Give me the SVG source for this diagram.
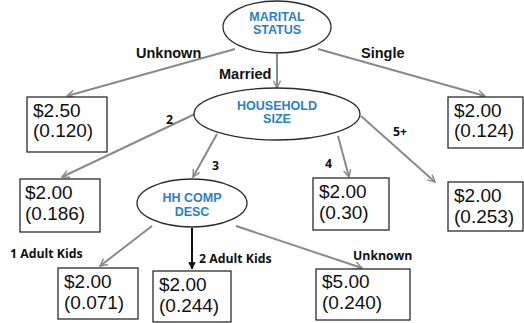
<svg xmlns="http://www.w3.org/2000/svg" width="524" height="323" viewBox="0 0 524 323">
<style>
.node ellipse{fill:#fff;stroke:#2b2b2b;stroke-width:1.3}
.node text{font-family:"Liberation Sans",Arial,sans-serif;font-weight:bold;font-size:12.5px;fill:#2c80c3;text-anchor:middle}
.leaf rect{fill:#fff;stroke:#2b2b2b;stroke-width:1.3}
.leaf text{font-family:"Liberation Sans",Arial,sans-serif;font-size:19px;fill:#111}
.edge{stroke:#8a8a8a;stroke-width:2;fill:none;marker-end:url(#ag)}
.edge.dark{stroke:#111;marker-end:url(#ab)}
.lbl{font-family:"Liberation Sans",Arial,sans-serif;font-weight:bold;font-size:14.5px;fill:#111}
.sl{font-family:"Open Sans",sans-serif;font-weight:bold;font-size:12.3px;fill:#111}
</style>
<defs>
<marker id="ag" viewBox="0 0 10 10" refX="9" refY="5" markerWidth="4.5" markerHeight="4.5" orient="auto" markerUnits="strokeWidth">
<path d="M1,1 L9,5 L1,9" fill="none" stroke="#8a8a8a" stroke-width="1.6"/>
</marker>
<marker id="ab" viewBox="0 0 10 10" refX="9" refY="5" markerWidth="4" markerHeight="4" orient="auto" markerUnits="strokeWidth">
<path d="M1,1 L9,5 L1,9 Z" fill="#111" stroke="#111" stroke-width="1"/>
</marker>
</defs>
<g id="connectors">
<line class="edge" x1="235" y1="49" x2="67" y2="96"/>
<line class="edge" x1="277" y1="54" x2="277" y2="88"/>
<line class="edge" x1="318" y1="49" x2="485" y2="96"/>
<line class="edge" x1="195" y1="114" x2="62" y2="177"/>
<line class="edge" x1="217" y1="134" x2="193" y2="177"/>
<line class="edge" x1="338" y1="136" x2="349" y2="177"/>
<line class="edge" x1="361" y1="116" x2="435" y2="182"/>
<line class="edge" x1="152" y1="226" x2="100" y2="266"/>
<line class="edge dark" x1="192" y1="228" x2="192" y2="269"/>
<line class="edge" x1="236" y1="226" x2="362" y2="268"/>
<text class="lbl" x="136" y="58">Unknown</text>
<text class="lbl" x="361" y="58">Single</text>
<text class="lbl" x="219" y="79">Married</text>
<text class="sl" x="166" y="124">2</text>
<text class="sl" x="393" y="136">5+</text>
<text class="sl" x="212" y="170">3</text>
<text class="sl" x="325" y="168">4</text>
<text class="sl" x="10" y="258">1 Adult Kids</text>
<text class="sl" x="199" y="263">2 Adult Kids</text>
<text class="sl" x="353" y="260">Unknown</text>
</g>
<g id="marital-status" class="node">
<ellipse cx="277" cy="27" rx="54" ry="26"/>
<text x="277" y="21">MARITAL</text>
<text x="277" y="34">STATUS</text>
</g>
<g id="household-size" class="node">
<ellipse cx="277" cy="114" rx="83" ry="26"/>
<text x="277" y="110">HOUSEHOLD</text>
<text x="277" y="123">SIZE</text>
</g>
<g id="hh-comp-desc" class="node">
<ellipse cx="192" cy="203" rx="55" ry="24"/>
<text x="192" y="202">HH COMP</text>
<text x="192" y="216">DESC</text>
</g>
<g id="leaf-unknown" class="leaf">
<rect x="27" y="97" width="80" height="55"/>
<text x="33" y="117">$2.50</text>
<text x="33" y="137">(0.120)</text>
</g>
<g id="leaf-single" class="leaf">
<rect x="448" y="97" width="75" height="51"/>
<text x="454" y="117">$2.00</text>
<text x="454" y="137">(0.124)</text>
</g>
<g id="leaf-2" class="leaf">
<rect x="20" y="179" width="80" height="53"/>
<text x="25" y="199">$2.00</text>
<text x="25" y="220">(0.186)</text>
</g>
<g id="leaf-4" class="leaf">
<rect x="313" y="178" width="76" height="52"/>
<text x="319" y="198">$2.00</text>
<text x="319" y="219">(0.30)</text>
</g>
<g id="leaf-5plus" class="leaf">
<rect x="448" y="182" width="75" height="49"/>
<text x="454" y="202">$2.00</text>
<text x="454" y="223">(0.253)</text>
</g>
<g id="leaf-1-adult-kids" class="leaf">
<rect x="58" y="268" width="80" height="51"/>
<text x="64" y="288">$2.00</text>
<text x="64" y="309">(0.071)</text>
</g>
<g id="leaf-2-adult-kids" class="leaf">
<rect x="153" y="271" width="78" height="51"/>
<text x="159" y="291">$2.00</text>
<text x="159" y="312">(0.244)</text>
</g>
<g id="leaf-hh-unknown" class="leaf">
<rect x="316" y="269" width="94" height="51"/>
<text x="322" y="288">$5.00</text>
<text x="322" y="309">(0.240)</text>
</g>
</svg>
